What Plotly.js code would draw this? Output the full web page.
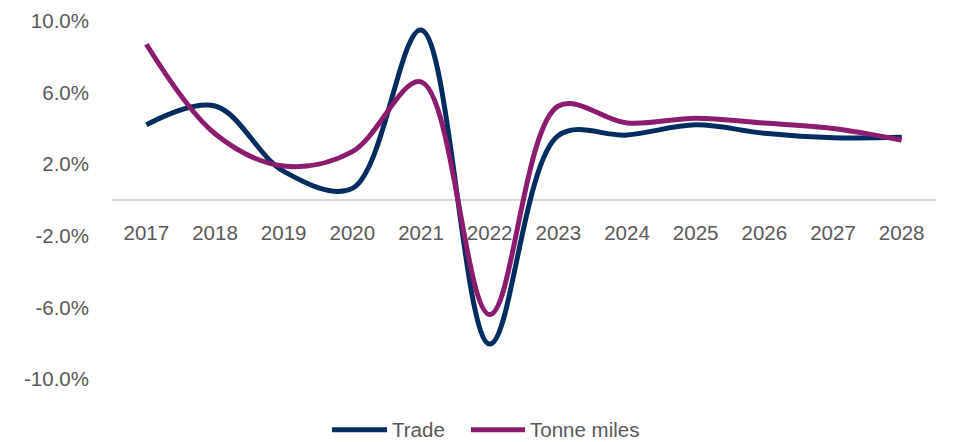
<!DOCTYPE html>
<html>
<head>
<meta charset="utf-8">
<script src="https://cdn.plot.ly/plotly-3.0.1.min.js"></script>
<style>html,body{margin:0;padding:0;background:#fff;}#chart{width:953px;height:442px;}</style>
</head>
<body>
<div id="chart"></div>
<script>
const years = ['2017','2018','2019','2020','2021','2022','2023','2024','2025','2026','2027','2028'];
const trade = [4.2, 5.25, 1.6, 0.65, 9.5, -8.05, 3.6, 3.63, 4.2, 3.73, 3.48, 3.5];
const tonneMiles = [8.7, 3.7, 1.9, 2.7, 6.6, -6.4, 5.25, 4.3, 4.57, 4.3, 4.0, 3.35];
const seriesNames = ['Trade', 'Tonne miles'];
const seriesColors = ['#002D5F', '#8B1C6E'];
const yTicks = [-10, -6, -2, 2, 6, 10];

const textColor = '#595959';
const font = {family: '"Liberation Sans", Arial, sans-serif', size: 20.5, color: textColor};

const traces = [trade, tonneMiles].map((vals, i) => ({
  x: years, y: vals, name: seriesNames[i], type: 'scatter', mode: 'lines',
  line: {color: seriesColors[i], width: 5, shape: 'spline', smoothing: 1},
  showlegend: false
}));

// Manual legend (longer line samples, as in the reference)
const legendY = -0.142;
const legendItems = [{x0: 332, x1: 387}, {x0: 471, x1: 525}];
const plotL = 112, plotW = 953 - 112 - 17;
const toPaperX = px => (px - plotL) / plotW;
const shapes = legendItems.map((it, i) => ({
  type: 'line', xref: 'paper', yref: 'paper',
  x0: toPaperX(it.x0), x1: toPaperX(it.x1), y0: legendY, y1: legendY,
  line: {color: seriesColors[i], width: 5}, layer: 'above'
}));
const annotations = legendItems.map((it, i) => ({
  xref: 'paper', yref: 'paper', x: toPaperX(it.x1 + 3), y: legendY,
  xanchor: 'left', yanchor: 'middle', showarrow: false,
  text: seriesNames[i], font: font
}));

const layout = {
  width: 953, height: 442,
  margin: {l: 112, r: 17, t: 21, b: 63},
  paper_bgcolor: '#fff', plot_bgcolor: '#fff',
  font: font,
  showlegend: false,
  shapes: shapes,
  annotations: annotations,
  xaxis: {type: 'category', range: [-0.5, 11.5], anchor: 'free', position: 0.5,
          showline: false, showgrid: false, zeroline: false, ticks: '',
          ticklabelstandoff: 18, tickfont: font, fixedrange: true},
  yaxis: {range: [-10, 10], tickvals: yTicks, ticktext: yTicks.map(v => v.toFixed(1) + '%'),
          showgrid: false, zeroline: true, zerolinecolor: '#d9d9d9', zerolinewidth: 2,
          showline: false, ticks: '', ticklabelstandoff: 22, tickfont: font, fixedrange: true}
};

Plotly.newPlot('chart', traces, layout, {displayModeBar: false, staticPlot: true});
</script>
</body>
</html>
